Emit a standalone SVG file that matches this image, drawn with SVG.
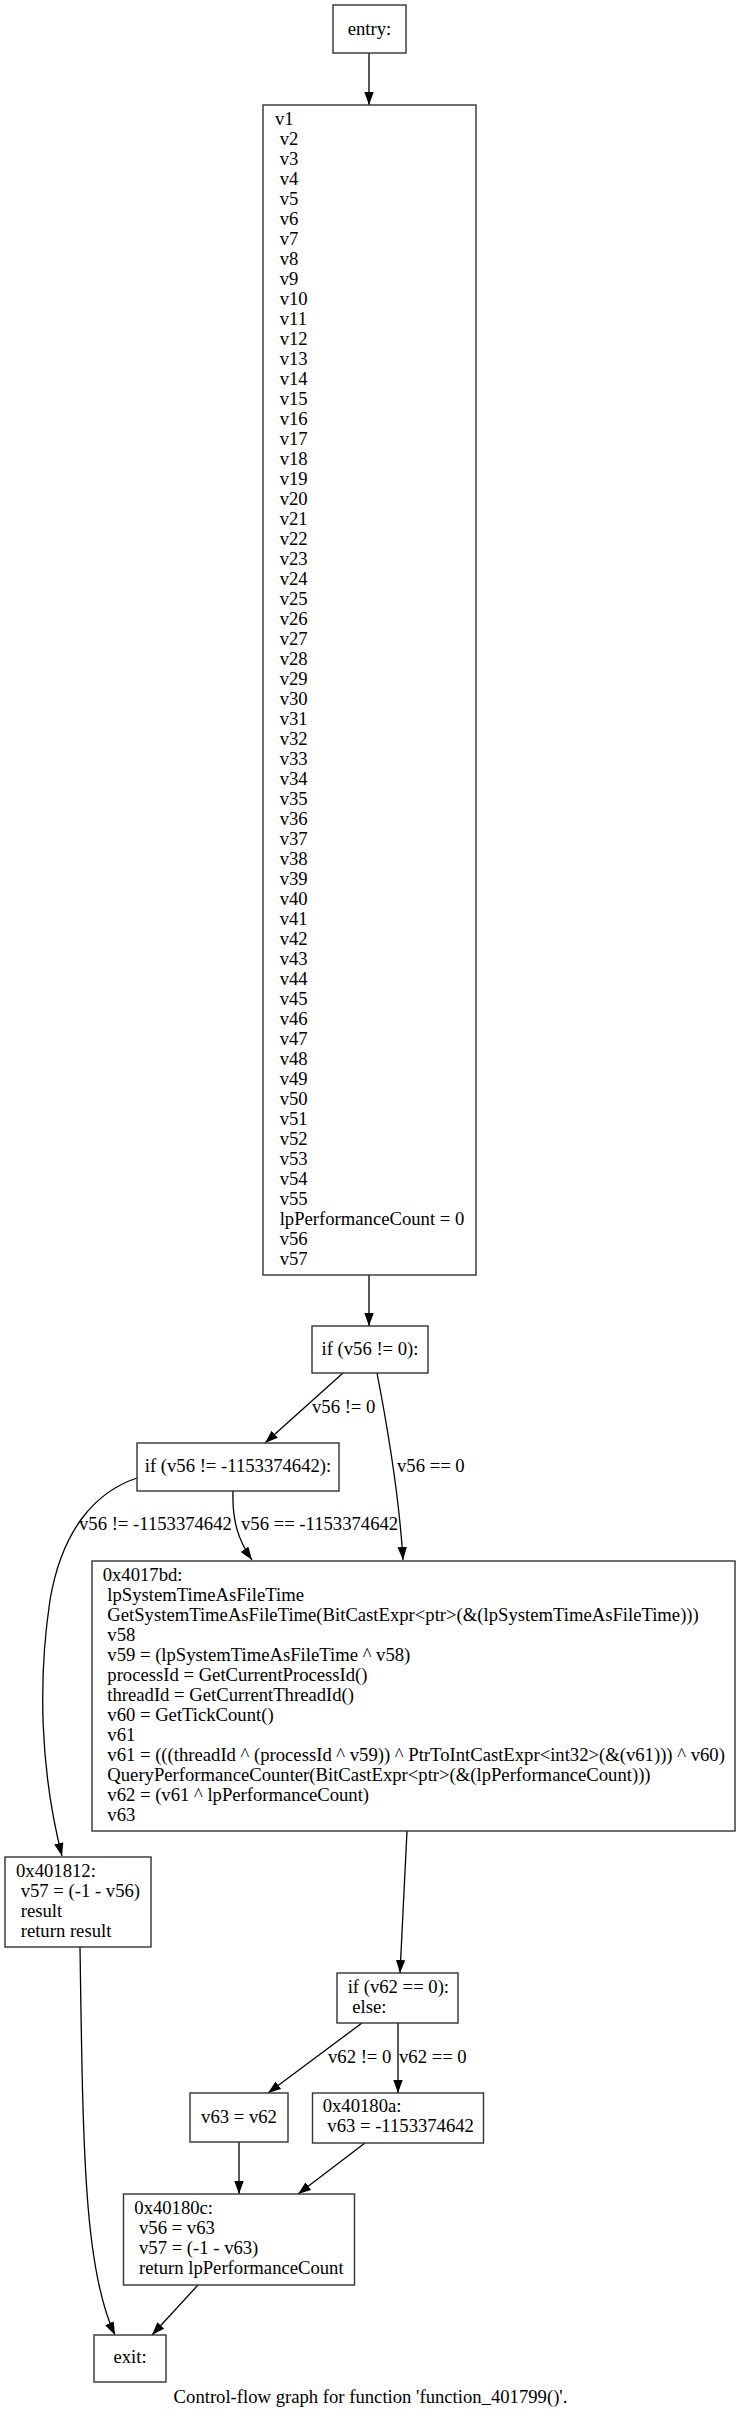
<svg xmlns="http://www.w3.org/2000/svg" width="741" height="2420" viewBox="0 0 741 2420">
<style>
text{font-family:"Liberation Serif","Times New Roman",serif;font-size:18.67px;fill:#000}
.c{text-anchor:middle}
.box{fill:#fff;stroke:#333;stroke-width:1.4}
.e{fill:none;stroke:#000;stroke-width:1.3}
</style>
<defs>
<marker id="ah" markerUnits="userSpaceOnUse" markerWidth="14" markerHeight="10" refX="13" refY="4.7" orient="auto">
<path d="M0,0 L13,4.7 L0,9.4 z" fill="#000"/>
</marker>
</defs>
<rect width="741" height="2420" fill="#fff"/>
<g id="edges">
<path class="e" d="M369,53 L369,105" marker-end="url(#ah)"/>
<path class="e" d="M369,1275 L369,1326" marker-end="url(#ah)"/>
<path class="e" d="M343,1373 L265,1443" marker-end="url(#ah)"/>
<text x="312" y="1413">v56 != 0</text>
<path class="e" d="M377,1373 C390,1440 400,1510 403,1560" marker-end="url(#ah)"/>
<text x="397" y="1472">v56 == 0</text>
<path class="e" d="M137,1478 C95,1492 62,1530 50,1600 C38,1680 40,1770 62,1856" marker-end="url(#ah)"/>
<text x="79" y="1530">v56 != -1153374642</text>
<path class="e" d="M233,1491 C232,1520 238,1540 252,1560" marker-end="url(#ah)"/>
<text x="241" y="1530">v56 == -1153374642</text>
<path class="e" d="M407,1831 L400,1973" marker-end="url(#ah)"/>
<path class="e" d="M80,1947 C83,2150 84,2270 115,2335" marker-end="url(#ah)"/>
<path class="e" d="M362,2023 L268,2093" marker-end="url(#ah)"/>
<text x="328" y="2063">v62 != 0</text>
<path class="e" d="M398,2023 L398,2093" marker-end="url(#ah)"/>
<text x="399" y="2063">v62 == 0</text>
<path class="e" d="M239,2142 L239,2194" marker-end="url(#ah)"/>
<path class="e" d="M365,2143 L298,2194" marker-end="url(#ah)"/>
<path class="e" d="M198,2285 L152,2335" marker-end="url(#ah)"/>
</g>
<g id="entry">
<rect class="box" x="333" y="5" width="73" height="48"/>
<text class="c" x="369.5" y="35">entry:</text>
</g>
<g id="n_vars">
<rect class="box" x="263" y="105" width="213" height="1170"/>
<text x="275" y="124.5">v1</text>
<text x="279.7" y="144.5">v2</text>
<text x="279.7" y="164.5">v3</text>
<text x="279.7" y="184.5">v4</text>
<text x="279.7" y="204.5">v5</text>
<text x="279.7" y="224.5">v6</text>
<text x="279.7" y="244.5">v7</text>
<text x="279.7" y="264.5">v8</text>
<text x="279.7" y="284.5">v9</text>
<text x="279.7" y="304.5">v10</text>
<text x="279.7" y="324.5">v11</text>
<text x="279.7" y="344.5">v12</text>
<text x="279.7" y="364.5">v13</text>
<text x="279.7" y="384.5">v14</text>
<text x="279.7" y="404.5">v15</text>
<text x="279.7" y="424.5">v16</text>
<text x="279.7" y="444.5">v17</text>
<text x="279.7" y="464.5">v18</text>
<text x="279.7" y="484.5">v19</text>
<text x="279.7" y="504.5">v20</text>
<text x="279.7" y="524.5">v21</text>
<text x="279.7" y="544.5">v22</text>
<text x="279.7" y="564.5">v23</text>
<text x="279.7" y="584.5">v24</text>
<text x="279.7" y="604.5">v25</text>
<text x="279.7" y="624.5">v26</text>
<text x="279.7" y="644.5">v27</text>
<text x="279.7" y="664.5">v28</text>
<text x="279.7" y="684.5">v29</text>
<text x="279.7" y="704.5">v30</text>
<text x="279.7" y="724.5">v31</text>
<text x="279.7" y="744.5">v32</text>
<text x="279.7" y="764.5">v33</text>
<text x="279.7" y="784.5">v34</text>
<text x="279.7" y="804.5">v35</text>
<text x="279.7" y="824.5">v36</text>
<text x="279.7" y="844.5">v37</text>
<text x="279.7" y="864.5">v38</text>
<text x="279.7" y="884.5">v39</text>
<text x="279.7" y="904.5">v40</text>
<text x="279.7" y="924.5">v41</text>
<text x="279.7" y="944.5">v42</text>
<text x="279.7" y="964.5">v43</text>
<text x="279.7" y="984.5">v44</text>
<text x="279.7" y="1004.5">v45</text>
<text x="279.7" y="1024.5">v46</text>
<text x="279.7" y="1044.5">v47</text>
<text x="279.7" y="1064.5">v48</text>
<text x="279.7" y="1084.5">v49</text>
<text x="279.7" y="1104.5">v50</text>
<text x="279.7" y="1124.5">v51</text>
<text x="279.7" y="1144.5">v52</text>
<text x="279.7" y="1164.5">v53</text>
<text x="279.7" y="1184.5">v54</text>
<text x="279.7" y="1204.5">v55</text>
<text x="279.7" y="1224.5">lpPerformanceCount = 0</text>
<text x="279.7" y="1244.5">v56</text>
<text x="279.7" y="1264.5">v57</text>
</g>
<g id="if1">
<rect class="box" x="312" y="1326" width="116" height="47"/>
<text class="c" x="370" y="1355">if (v56 != 0):</text>
</g>
<g id="if2">
<rect class="box" x="137" y="1443" width="202" height="48"/>
<text class="c" x="238" y="1472">if (v56 != -1153374642):</text>
</g>
<g id="n_4017bd">
<rect class="box" x="92" y="1561" width="643" height="270"/>
<text x="102.7" y="1581">0x4017bd:</text>
<text x="107.3" y="1601">lpSystemTimeAsFileTime</text>
<text x="107.3" y="1621">GetSystemTimeAsFileTime(BitCastExpr&lt;ptr&gt;(&amp;(lpSystemTimeAsFileTime)))</text>
<text x="107.3" y="1641">v58</text>
<text x="107.3" y="1661">v59 = (lpSystemTimeAsFileTime ^ v58)</text>
<text x="107.3" y="1681">processId = GetCurrentProcessId()</text>
<text x="107.3" y="1701">threadId = GetCurrentThreadId()</text>
<text x="107.3" y="1721">v60 = GetTickCount()</text>
<text x="107.3" y="1741">v61</text>
<text x="107.3" y="1761">v61 = (((threadId ^ (processId ^ v59)) ^ PtrToIntCastExpr&lt;int32&gt;(&amp;(v61))) ^ v60)</text>
<text x="107.3" y="1781">QueryPerformanceCounter(BitCastExpr&lt;ptr&gt;(&amp;(lpPerformanceCount)))</text>
<text x="107.3" y="1801">v62 = (v61 ^ lpPerformanceCount)</text>
<text x="107.3" y="1821">v63</text>
</g>
<g id="n_401812">
<rect class="box" x="5" y="1857" width="146" height="90"/>
<text x="16" y="1876.7">0x401812:</text>
<text x="20.7" y="1896.7">v57 = (-1 - v56)</text>
<text x="20.7" y="1916.7">result</text>
<text x="20.7" y="1936.7">return result</text>
</g>
<g id="if3">
<rect class="box" x="337" y="1973" width="121" height="50"/>
<text x="347.7" y="1992.7">if (v62 == 0):</text>
<text x="352.3" y="2012.7">else:</text>
</g>
<g id="n_v63">
<rect class="box" x="190" y="2093" width="98" height="49"/>
<text class="c" x="239" y="2122.7">v63 = v62</text>
</g>
<g id="n_40180a">
<rect class="box" x="312.5" y="2093" width="171" height="50"/>
<text x="322.7" y="2112.3">0x40180a:</text>
<text x="327.3" y="2132">v63 = -1153374642</text>
</g>
<g id="n_40180c">
<rect class="box" x="123.5" y="2194" width="231" height="91"/>
<text x="134.3" y="2214">0x40180c:</text>
<text x="139" y="2234">v56 = v63</text>
<text x="139" y="2254">v57 = (-1 - v63)</text>
<text x="139" y="2274">return lpPerformanceCount</text>
</g>
<g id="exit">
<rect class="box" x="94" y="2335" width="72" height="47"/>
<text class="c" x="130" y="2363">exit:</text>
</g>
<text class="c" x="370.5" y="2403">Control-flow graph for function 'function_401799()'.</text>
</svg>
